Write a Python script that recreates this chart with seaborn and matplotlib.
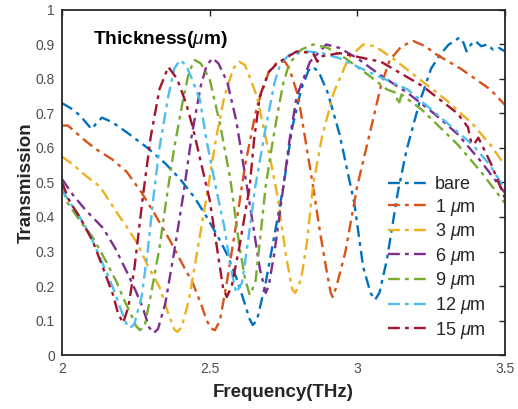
import numpy as np
import pandas as pd
import matplotlib
matplotlib.use("Agg")
import matplotlib.pyplot as plt
import seaborn as sns

sns.set_theme(style="white")
plt.rcParams["font.family"] = ["Liberation Sans", "DejaVu Sans"]
plt.rcParams["mathtext.fontset"] = "custom"
plt.rcParams["mathtext.it"] = "Liberation Sans:italic"
plt.rcParams["mathtext.rm"] = "Liberation Sans"

# Transmission spectra for different film thicknesses
freq_bare = [2.00, 2.03, 2.06, 2.08, 2.10, 2.115, 2.135, 2.17, 2.22, 2.29, 2.35, 2.40,
             2.45, 2.49, 2.53, 2.56, 2.59, 2.615, 2.635, 2.646, 2.66, 2.69, 2.72, 2.75,
             2.78, 2.81, 2.835, 2.85, 2.87, 2.90, 2.94, 2.99, 3.02, 3.045, 3.06, 3.075,
             3.10, 3.137, 3.167, 3.21, 3.25, 3.28, 3.31, 3.33, 3.345, 3.36, 3.37, 3.385,
             3.40, 3.42, 3.44, 3.46, 3.48, 3.50]
trans_bare = [0.73, 0.715, 0.695, 0.675, 0.655, 0.67, 0.688, 0.675, 0.645, 0.60, 0.555, 0.51,
              0.455, 0.40, 0.34, 0.29, 0.225, 0.16, 0.105, 0.087, 0.10, 0.21, 0.35, 0.49,
              0.66, 0.77, 0.825, 0.835, 0.82, 0.76, 0.64, 0.44, 0.255, 0.18, 0.16, 0.18,
              0.275, 0.47, 0.594, 0.73, 0.83, 0.87, 0.90, 0.91, 0.92, 0.905, 0.88, 0.90,
              0.91, 0.895, 0.90, 0.885, 0.89, 0.88]

freq_1um = [2.00, 2.02, 2.04, 2.08, 2.12, 2.17, 2.22, 2.27, 2.32, 2.365, 2.41, 2.443,
            2.47, 2.49, 2.505, 2.518, 2.535, 2.56, 2.59, 2.62, 2.66, 2.70, 2.73, 2.755,
            2.77, 2.80, 2.825, 2.85, 2.875, 2.895, 2.91, 2.917, 2.93, 2.96, 3.00, 3.05,
            3.08, 3.11, 3.15, 3.19, 3.23, 3.27, 3.31, 3.35, 3.40, 3.45, 3.50]
trans_1um = [0.665, 0.665, 0.65, 0.62, 0.594, 0.567, 0.53, 0.47, 0.40, 0.333, 0.26, 0.208,
             0.15, 0.10, 0.077, 0.072, 0.10, 0.22, 0.38, 0.55, 0.72, 0.82, 0.85, 0.85,
             0.83, 0.75, 0.62, 0.49, 0.35, 0.25, 0.18, 0.168, 0.20, 0.30, 0.49, 0.67,
             0.78, 0.855, 0.895, 0.91, 0.895, 0.87, 0.85, 0.83, 0.80, 0.77, 0.725]

freq_3um = [2.00, 2.04, 2.08, 2.13, 2.18, 2.22, 2.254, 2.29, 2.33, 2.36, 2.38, 2.39,
            2.405, 2.43, 2.46, 2.49, 2.52, 2.55, 2.58, 2.60, 2.62, 2.66, 2.70, 2.73,
            2.76, 2.78, 2.79, 2.81, 2.83, 2.85, 2.88, 2.92, 2.97, 3.02, 3.06, 3.12,
            3.21, 3.30, 3.39, 3.45, 3.50]
trans_3um = [0.575, 0.55, 0.52, 0.487, 0.42, 0.37, 0.325, 0.26, 0.197, 0.12, 0.075, 0.067,
             0.08, 0.16, 0.31, 0.46, 0.62, 0.75, 0.83, 0.85, 0.84, 0.75, 0.59, 0.46,
             0.28, 0.19, 0.18, 0.22, 0.33, 0.49, 0.63, 0.76, 0.86, 0.90, 0.895, 0.86,
             0.80, 0.74, 0.67, 0.61, 0.55]

freq_6um = [2.00, 2.037, 2.08, 2.139, 2.18, 2.22, 2.25, 2.274, 2.295, 2.31, 2.325, 2.35,
            2.38, 2.41, 2.44, 2.47, 2.49, 2.51, 2.53, 2.56, 2.59, 2.626, 2.65, 2.67,
            2.69, 2.70, 2.72, 2.75, 2.77, 2.795, 2.84, 2.895, 2.94, 3.00, 3.08, 3.17,
            3.26, 3.34, 3.42, 3.50]
trans_6um = [0.51, 0.464, 0.42, 0.368, 0.31, 0.24, 0.185, 0.136, 0.08, 0.064, 0.075, 0.15,
             0.30, 0.46, 0.64, 0.78, 0.84, 0.86, 0.845, 0.79, 0.68, 0.49, 0.36, 0.25,
             0.18, 0.20, 0.30, 0.49, 0.62, 0.75, 0.85, 0.90, 0.89, 0.86, 0.81, 0.76,
             0.70, 0.64, 0.56, 0.47]

freq_9um = [2.00, 2.017, 2.06, 2.105, 2.15, 2.186, 2.21, 2.23, 2.25, 2.264, 2.28, 2.30,
            2.33, 2.355, 2.38, 2.41, 2.43, 2.45, 2.47, 2.50, 2.535, 2.57, 2.60, 2.62,
            2.636, 2.655, 2.67, 2.69, 2.71, 2.73, 2.75, 2.77, 2.81, 2.85, 2.90, 2.96,
            3.04, 3.10, 3.13, 3.14, 3.15, 3.22, 3.34, 3.42, 3.50]
trans_9um = [0.49, 0.443, 0.39, 0.34, 0.27, 0.21, 0.16, 0.125, 0.085, 0.072, 0.085, 0.17,
             0.31, 0.46, 0.60, 0.74, 0.82, 0.855, 0.845, 0.80, 0.67, 0.51, 0.32, 0.22,
             0.174, 0.21, 0.33, 0.49, 0.60, 0.70, 0.79, 0.845, 0.885, 0.90, 0.89, 0.86,
             0.81, 0.77, 0.76, 0.725, 0.755, 0.71, 0.61, 0.53, 0.44]

freq_12um = [2.00, 2.017, 2.06, 2.095, 2.135, 2.173, 2.20, 2.22, 2.23, 2.245, 2.27, 2.29,
             2.31, 2.33, 2.36, 2.38, 2.40, 2.42, 2.44, 2.467, 2.49, 2.52, 2.55, 2.57,
             2.59, 2.61, 2.63, 2.655, 2.69, 2.72, 2.74, 2.77, 2.83, 2.88, 2.94, 3.04,
             3.17, 3.28, 3.39, 3.45, 3.50]
trans_12um = [0.48, 0.455, 0.40, 0.348, 0.27, 0.194, 0.13, 0.087, 0.078, 0.09, 0.17, 0.30,
              0.46, 0.60, 0.75, 0.83, 0.855, 0.84, 0.80, 0.74, 0.62, 0.49, 0.37, 0.26,
              0.18, 0.21, 0.33, 0.49, 0.66, 0.79, 0.845, 0.87, 0.88, 0.875, 0.86, 0.82,
              0.77, 0.69, 0.61, 0.55, 0.48]

freq_15um = [2.00, 2.027, 2.06, 2.105, 2.14, 2.173, 2.19, 2.207, 2.225, 2.245, 2.274, 2.30,
             2.33, 2.36, 2.39, 2.42, 2.443, 2.47, 2.50, 2.525, 2.545, 2.558, 2.575, 2.60,
             2.636, 2.65, 2.67, 2.70, 2.73, 2.795, 2.85, 2.865, 2.875, 2.94, 3.08, 3.22,
             3.34, 3.375, 3.385, 3.395, 3.41, 3.45, 3.50]
trans_15um = [0.50, 0.443, 0.40, 0.328, 0.25, 0.174, 0.12, 0.093, 0.14, 0.25, 0.46, 0.63,
              0.77, 0.835, 0.80, 0.73, 0.66, 0.56, 0.45, 0.31, 0.197, 0.168, 0.20, 0.31,
              0.49, 0.62, 0.75, 0.82, 0.846, 0.88, 0.875, 0.85, 0.865, 0.875, 0.85, 0.78,
              0.70, 0.66, 0.62, 0.61, 0.63, 0.56, 0.455]

labels = ["bare", r"1 $\mu$m", r"3 $\mu$m", r"6 $\mu$m", r"9 $\mu$m", r"12 $\mu$m", r"15 $\mu$m"]
colors = ["#0072BD", "#D95319", "#EDB120", "#7E2F8E", "#77AC30", "#4DBEEE", "#A2142F"]
series = [
    (freq_bare, trans_bare), (freq_1um, trans_1um), (freq_3um, trans_3um),
    (freq_6um, trans_6um), (freq_9um, trans_9um), (freq_12um, trans_12um),
    (freq_15um, trans_15um),
]

fig = plt.figure(figsize=(5.18, 4.09), dpi=100)
ax = fig.add_axes([0.1197, 0.132, 0.855, 0.8436])

for (f, t), lab, col in zip(series, labels, colors):
    df = pd.DataFrame({"Frequency": f, "Transmission": t})
    sns.lineplot(data=df, x="Frequency", y="Transmission", ax=ax, color=col,
                 label=lab, sort=False, estimator=None, lw=1.7,
                 linestyle=(0, (5.0, 2.2, 1.6, 2.2)))

ax.set_xlim(2, 3.5)
ax.set_ylim(0, 1)
ax.set_xticks([2, 2.5, 3, 3.5])
ax.set_xticklabels(["2", "2.5", "3", "3.5"])
ax.set_yticks(np.round(np.arange(0, 1.01, 0.1), 1))
ax.set_yticklabels(["0", "0.1", "0.2", "0.3", "0.4", "0.5", "0.6", "0.7", "0.8", "0.9", "1"])
ax.tick_params(direction="in", length=4, width=1, top=True, right=True,
               labelsize=10, labelcolor="#4d4d4d", color="#262626", pad=5)
for sp in ax.spines.values():
    sp.set_color("#262626")
    sp.set_linewidth(1.3)

ax.set_xlabel("Frequency(THz)", fontsize=13.5, fontweight="bold", color="#262626", labelpad=6)
ax.set_ylabel("Transmission", fontsize=13.5, fontweight="bold", color="#262626", labelpad=1)

ax.text(2.105, 0.915, r"Thickness($\mu$m)", fontsize=13.8, fontweight="bold",
        color="black", va="center", ha="left")

leg = ax.legend(loc="lower right", frameon=False, fontsize=13, handlelength=2.4,
                handletextpad=0.2, labelspacing=0.2, borderaxespad=0.3,
                bbox_to_anchor=(0.985, 0.005))
for txt in leg.get_texts():
    txt.set_color("#262626")

fig.savefig("out.png", dpi=100)
